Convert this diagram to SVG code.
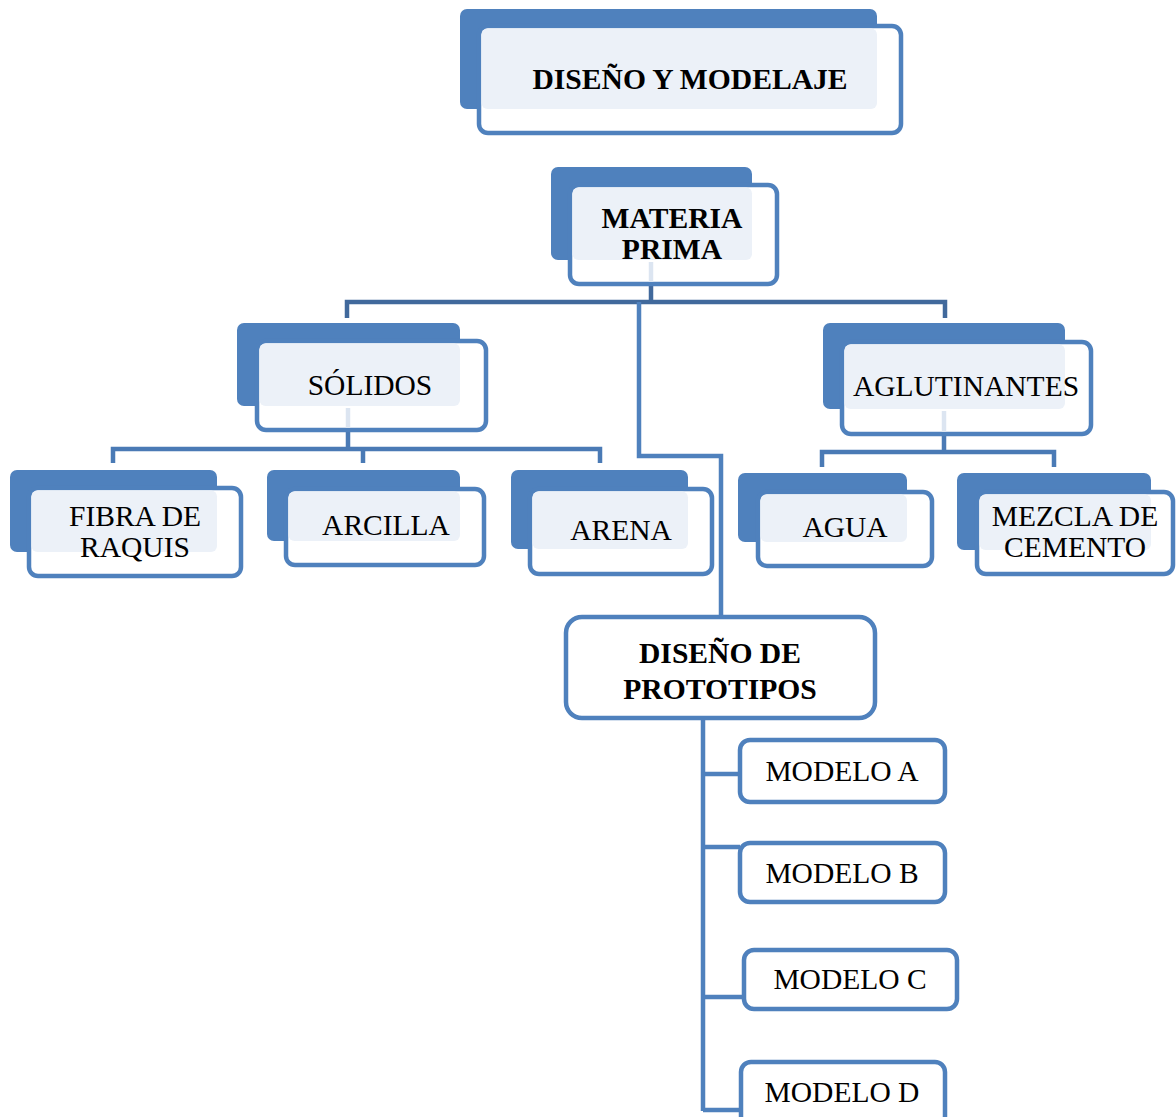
<svg xmlns="http://www.w3.org/2000/svg" width="1176" height="1117" viewBox="0 0 1176 1117">
<style>
.bg{fill:#ffffff}
.back{fill:#4F81BD}
.front{fill:#ffffff;stroke:#4F81BD;stroke-width:4.5}
.ov{fill:#ECF1F8}
.box{fill:#ffffff;stroke:#4F81BD;stroke-width:4.5}
.c1{stroke:#41699C;stroke-width:4.5;fill:none}
.c2{stroke:#4A7AB5;stroke-width:4.5;fill:none}
.c3{stroke:#4F81BD;stroke-width:4.5;fill:none}
.cl{stroke:#DCE5F1;stroke-width:4.5;fill:none}
.tb{font-family:"Liberation Serif","Times New Roman",serif;font-weight:bold;font-size:29.6px;fill:#000;text-anchor:middle}
.tr{font-family:"Liberation Serif","Times New Roman",serif;font-size:29.5px;fill:#000;text-anchor:middle}
</style>
<rect class="bg" x="0" y="0" width="1176" height="1117"/>
<g id="connectors">
  <path class="c1" d="M651,284 V302 M347,318 V302 H945 V318"/>
  <path class="c3" d="M639,302 V456 H721 V617"/>
  <path class="c2" d="M348,430 V449 M113,463 V449 H600 V463 M363,449 V463"/>
  <path class="c2" d="M944,434 V452 M822,467 V452 H1054 V467"/>
  <path class="c3" d="M703,720 V1111 M703,774 H740 M703,847 H740 M703,997 H744 M703,1110 H741"/>
</g>
<g id="n-title">
  <rect class="back" x="460" y="9" width="417" height="100" rx="7"/>
  <rect class="front" x="479" y="26" width="422" height="107" rx="9"/>
  <rect class="ov" x="481.5" y="28.5" width="395.5" height="80.5" rx="6"/>
  <text class="tb" x="690" y="89">DISEÑO Y MODELAJE</text>
</g>
<g id="n-materia">
  <rect class="back" x="551" y="167" width="201" height="93" rx="7"/>
  <rect class="front" x="570" y="185" width="207" height="99" rx="9"/>
  <rect class="ov" x="572.5" y="187.5" width="179.5" height="72.5" rx="6"/>
  <line class="cl" x1="651" y1="262" x2="651" y2="282"/>
  <text class="tb" x="672" y="228">MATERIA</text>
  <text class="tb" x="672" y="259">PRIMA</text>
</g>
<g id="n-solidos">
  <rect class="back" x="237" y="323" width="223" height="83" rx="7"/>
  <rect class="front" x="257" y="341" width="229" height="89" rx="9"/>
  <rect class="ov" x="259.5" y="343.5" width="200.5" height="62.5" rx="6"/>
  <line class="cl" x1="348" y1="408" x2="348" y2="428"/>
  <text class="tr" x="370" y="395">SÓLIDOS</text>
</g>
<g id="n-aglutinantes">
  <rect class="back" x="823" y="323" width="242" height="86" rx="7"/>
  <rect class="front" x="842" y="342" width="249" height="92" rx="9"/>
  <rect class="ov" x="844.5" y="344.5" width="220.5" height="64.5" rx="6"/>
  <line class="cl" x1="944" y1="411" x2="944" y2="432"/>
  <text class="tr" x="966" y="396">AGLUTINANTES</text>
</g>
<g id="n-fibra">
  <rect class="back" x="10" y="470" width="207" height="82" rx="7"/>
  <rect class="front" x="29" y="488" width="212" height="88" rx="9"/>
  <rect class="ov" x="31.5" y="490.5" width="185.5" height="61.5" rx="6"/>
  <text class="tr" x="135" y="526">FIBRA DE</text>
  <text class="tr" x="135" y="557">RAQUIS</text>
</g>
<g id="n-arcilla">
  <rect class="back" x="267" y="470" width="193" height="71" rx="7"/>
  <rect class="front" x="286" y="489" width="198" height="76" rx="9"/>
  <rect class="ov" x="288.5" y="491.5" width="171.5" height="49.5" rx="6"/>
  <text class="tr" x="386" y="535">ARCILLA</text>
</g>
<g id="n-arena">
  <rect class="back" x="511" y="470" width="177" height="79" rx="7"/>
  <rect class="front" x="530" y="489" width="182" height="85" rx="9"/>
  <rect class="ov" x="532.5" y="491.5" width="155.5" height="57.5" rx="6"/>
  <text class="tr" x="621" y="540">ARENA</text>
</g>
<g id="n-agua">
  <rect class="back" x="738" y="473" width="169" height="69" rx="7"/>
  <rect class="front" x="758" y="492" width="174" height="74" rx="9"/>
  <rect class="ov" x="760.5" y="494.5" width="146.5" height="47.5" rx="6"/>
  <text class="tr" x="845" y="537">AGUA</text>
</g>
<g id="n-mezcla">
  <rect class="back" x="957" y="473" width="194" height="77" rx="7"/>
  <rect class="front" x="977" y="492" width="196" height="82" rx="9"/>
  <rect class="ov" x="979.5" y="494.5" width="171.5" height="55.5" rx="6"/>
  <text class="tr" x="1075" y="526">MEZCLA DE</text>
  <text class="tr" x="1075" y="557">CEMENTO</text>
</g>
<g id="n-prototipos">
  <rect class="box" x="566" y="617" width="309" height="101" rx="16"/>
  <text class="tb" x="720" y="663">DISEÑO DE</text>
  <text class="tb" x="720" y="699">PROTOTIPOS</text>
</g>
<g id="n-modelo-a">
  <rect class="box" x="740" y="740" width="205" height="62" rx="10"/>
  <text class="tr" x="842" y="781">MODELO A</text>
</g>
<g id="n-modelo-b">
  <rect class="box" x="740" y="843" width="205" height="59" rx="10"/>
  <text class="tr" x="842" y="883">MODELO B</text>
</g>
<g id="n-modelo-c">
  <rect class="box" x="744" y="950" width="213" height="59" rx="10"/>
  <text class="tr" x="850" y="989">MODELO C</text>
</g>
<g id="n-modelo-d">
  <rect class="box" x="741" y="1062" width="204" height="64" rx="10"/>
  <text class="tr" x="842" y="1102">MODELO D</text>
</g>
</svg>
